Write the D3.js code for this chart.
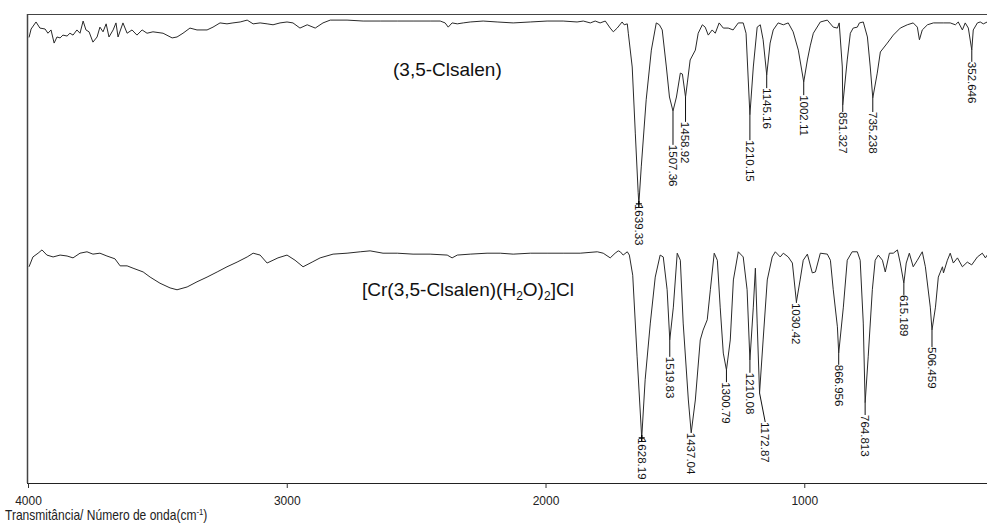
<!DOCTYPE html>
<html><head><meta charset="utf-8">
<script src="https://cdn.jsdelivr.net/npm/d3@7"></script>
<style>html,body{margin:0;padding:0;background:#fff;} svg{display:block;font-family:Arial,"Liberation Sans",sans-serif;}</style>
</head><body><svg id="c" width="987" height="525"></svg>
<script>
// ---- data: (3,5-Clsalen) ligand spectrum ----
const ligandWn = [3996,3988,3969,3954,3934,3923,3911,3899,3888,3876,3865,3849,3838,3826,3811,3799,3787,3776,3764,3749,3733,3722,3710,3698,3687,3671,3660,3652,3633,3617,3598,3579,3559,3540,3517,3478,3443,3424,3401,3374,3347,3308,3285,3258,3231,3208,3180,3153,3130,3103,3076,3053,3026,2999,2976,2949,2921,2890,2860,2832,2767,2705,2639,2573,2512,2446,2407,2388,2376,2361,2341,2318,2291,2241,2187,2125,2059,1994,1932,1878,1854,1827,1808,1789,1769,1750,1738,1723,1704,1696,1684,1680,1665,1653,1642,1639.33,1630,1611,1591,1572,1560,1549,1533,1521,1507.36,1494,1479,1471,1458.92,1452,1441,1421,1410,1394,1383,1371,1356,1344,1329,1313,1294,1275,1255,1236,1225,1210.15,1197,1182,1170,1159,1145.16,1132,1120,1101,1081,1062,1043,1023,1002.11,988,977,965,938,911,888,872,865,853,851.327,834,822,811,795,787,772,756,745,735.238,718,706,679,656,629,602,579,563,555,544,524,501,463,436,416,405,389,378,366,352.646,347,331,320,308,293,280];
const ligandT = [95.0,96.8,98.3,97.0,96.8,95.9,96.6,93.8,95.1,94.9,95.5,95.3,95.9,95.5,96.6,95.9,98.5,96.6,96.2,94.0,95.1,97.2,96.2,97.9,95.1,96.6,98.1,95.1,98.1,95.9,96.6,95.5,96.6,95.9,96.2,95.9,94.9,95.1,95.9,97.0,96.6,96.6,97.2,98.1,97.9,98.1,98.3,98.7,97.9,98.1,97.9,97.7,98.1,98.3,98.1,97.0,97.7,97.0,98.1,98.7,98.7,98.5,98.5,98.5,98.5,98.5,98.5,98.1,97.2,98.1,97.9,98.1,98.3,98.5,98.3,98.1,98.3,98.5,98.5,98.3,98.5,98.1,98.5,98.1,98.5,97.0,96.2,97.0,98.3,97.7,97.9,95.9,88.7,74.6,62.0,59.5,67.4,81.7,92.3,98.1,97.7,96.6,88.7,82.3,79.3,82.3,87.4,87.2,82.3,85.3,90.2,92.3,95.9,97.7,97.2,95.5,96.6,95.9,98.1,97.0,97.0,96.6,98.1,98.1,95.9,78.5,88.7,97.2,97.7,94.5,87.0,93.8,96.6,98.1,97.7,98.1,96.2,92.3,85.5,90.2,93.2,95.9,98.3,98.7,97.2,97.0,98.1,88.7,80.6,90.2,95.9,97.0,97.2,98.1,98.3,95.1,88.7,82.1,87.4,91.9,93.8,95.5,97.0,97.7,98.1,97.2,94.5,96.6,97.7,98.1,98.1,98.1,97.7,98.3,96.6,98.1,97.0,92.3,96.6,98.1,98.3,97.9,98.3,98.0];

// ---- data: [Cr(3,5-Clsalen)(H2O)2]Cl complex spectrum ----
const complexWn = [3996,3981,3961,3946,3927,3903,3876,3849,3826,3799,3772,3749,3722,3695,3664,3644,3617,3594,3555,3528,3490,3451,3424,3385,3347,3308,3269,3231,3192,3153,3130,3103,3076,3053,3034,2999,2968,2937,2902,2871,2821,2767,2716,2678,2628,2573,2512,2446,2380,2361,2341,2291,2226,2175,2125,2059,1994,1932,1866,1800,1777,1750,1731,1719,1711,1700,1684,1676,1663,1646,1628.19,1615,1595,1576,1557,1545,1530,1519.83,1506,1491,1479,1468,1448,1437.04,1421,1402,1391,1375,1363,1348,1336,1325,1313,1300.79,1286,1274,1255,1236,1221,1210.08,1197,1189,1182,1172.87,1159,1143,1124,1112,1093,1081,1062,1046,1030.42,1016,1004,988,969,957,938,911,899,888,872,866.956,849,834,815,795,784,772,764.813,753,737,726,714,698,687,671,656,640,629,615.189,606,594,579,563,544,532,513,506.459,493,482,466,462,447,436,424,408,389,370,353,331,312,300,293,280];
const complexT = [46.1,48.2,49.0,49.7,48.6,48.2,48.6,48.4,48.0,49.0,49.3,48.8,49.0,48.4,47.8,46.3,46.3,45.8,45.0,43.9,42.6,41.6,41.2,41.8,42.9,43.9,45.0,46.1,47.1,48.2,49.0,48.6,46.9,47.5,48.0,48.6,47.5,46.1,47.1,48.0,48.8,49.0,49.3,49.5,49.0,49.0,48.8,48.8,48.6,48.0,48.6,48.8,49.0,49.0,48.8,49.0,49.0,49.0,49.0,49.3,49.0,48.0,49.0,49.5,49.3,48.6,49.3,48.6,44.3,26.9,9.6,22.0,34.1,43.9,48.6,48.2,41.2,30.5,37.5,49.0,47.5,34.1,17.7,10.7,17.7,30.5,32.6,34.8,41.2,49.0,47.5,37.5,27.7,24.1,30.5,43.3,49.3,48.2,41.2,26.2,37.5,45.8,34.1,19.2,30.5,43.3,48.2,49.3,48.2,49.0,48.2,46.9,38.6,43.3,47.5,48.8,44.8,45.0,49.0,48.8,47.5,41.2,33.3,27.7,37.5,47.5,49.3,49.3,47.5,34.1,17.1,26.9,41.2,47.5,48.6,47.5,45.0,49.0,49.0,49.7,46.9,42.6,46.9,49.0,46.1,47.5,49.3,46.1,37.5,32.6,37.5,43.9,46.1,44.8,47.5,49.0,46.9,48.0,46.1,47.1,46.5,48.2,49.0,48.0,48.6,49.0];

// ---- peak annotations ----
const ligandPeakWn = [1639.33,1507.36,1458.92,1210.15,1145.16,1002.11,851.327,735.238,352.646];
const ligandPeakLabels = ["1639.33","1507.36","1458.92","1210.15","1145.16","1002.11","851.327","735.238","352.646"];
const ligandLabelWn = [1639.33,1507.36,1458.92,1210.15,1145.16,1002.11,851.327,735.238,352.646];
const ligandLabelT = [59.5,72.1,77.0,73.1,84.2,82.7,79.1,79.1,89.8];

const complexPeakWn = [1628.19,1519.83,1437.04,1300.79,1210.08,1172.87,1030.42,866.956,764.813,615.189,506.459];
const complexPeakLabels = ["1628.19","1519.83","1437.04","1300.79","1210.08","1172.87","1030.42","866.956","764.813","615.189","506.459"];
const complexLabelWn = [1628.19,1519.83,1437.04,1300.79,1210.08,1151,1030.42,866.956,764.813,615.189,506.459];
const complexLabelT = [9.6,26.9,10.7,21.5,23.5,13.0,38.4,25.2,14.5,40.1,29.0];

const tickValues = [4000,3000,2000,1000];
const seriesNames = ["(3,5-Clsalen)", "[Cr(3,5-Clsalen)(H2O)2]Cl"];
const axisTitle = "Transmitância/ Número de onda(cm";

// ---- drawing ----
const svg = d3.select("#c");
const pL = 27, pT = 14, pB = 483, pR = 987;
const x = d3.scaleLinear().domain([4000, 290]).range([28, 988]);
const y = d3.scaleLinear().domain([0, 100]).range([pB, pT]);

svg.append("defs").append("clipPath").attr("id","plot")
  .append("rect").attr("x", pL).attr("y", pT).attr("width", pR-pL).attr("height", pB-pT);

// frame
svg.append("line").attr("x1",pL).attr("x2",pR).attr("y1",pT+0.5).attr("y2",pT+0.5).attr("stroke","#444").attr("stroke-width",1.2);
svg.append("line").attr("x1",pL+0.5).attr("x2",pL+0.5).attr("y1",pT).attr("y2",pB).attr("stroke","#444").attr("stroke-width",1.5);

// axis
const axis = d3.axisBottom(x).tickValues(tickValues).tickSize(5).tickPadding(8).tickFormat(d3.format("d"));
const gA = svg.append("g").attr("transform", `translate(0,${pB})`).call(axis);
gA.select(".domain").attr("d", `M${pL},0.5H${pR}`).attr("stroke","#222").attr("stroke-width",1.2);
gA.selectAll(".tick line").attr("stroke","#333");
gA.selectAll(".tick text").attr("font-size", 12).attr("font-family","Arial, 'Liberation Sans', sans-serif").attr("fill","#222");

// spectra
const line = d3.line().x(d => x(d[0])).y(d => y(d[1]));
const gP = svg.append("g").attr("clip-path","url(#plot)");
const ligand = ligandWn.map((w,i) => [w, ligandT[i]]);
const complex = complexWn.map((w,i) => [w, complexT[i]]);
[ligand, complex].forEach(s => {
  gP.append("path").attr("d", line(s)).attr("fill","none").attr("stroke","#2a2a2a").attr("stroke-width",1).attr("stroke-linejoin","round");
});

// peak labels
function peaks(series, pw, labels, lw, lt) {
  pw.forEach((w, i) => {
    const pt = series.find(d => d[0] === w);
    const px = x(w), py = y(pt[1]);
    const lx = x(lw[i]), ly = y(lt[i]);
    gP.append("line").attr("x1",px).attr("y1",py).attr("x2",lx).attr("y2",ly).attr("stroke","#111").attr("stroke-width",1);
    gP.append("text").attr("transform", `translate(${lx},${ly}) rotate(90)`)
      .attr("dy","0.36em").attr("font-size", 11.5).attr("fill","#111").text(labels[i]);
  });
  const pt = series.find(d => d[0] === pw[0]);
  const cx = x(pw[0]), cy = y(pt[1]);
  gP.append("path").attr("d", `M${cx-3},${cy}H${cx+3}M${cx},${cy-3}V${cy+3}`).attr("stroke","#000").attr("stroke-width",1.3);
}
peaks(ligand, ligandPeakWn, ligandPeakLabels, ligandLabelWn, ligandLabelT);
peaks(complex, complexPeakWn, complexPeakLabels, complexLabelWn, complexLabelT);

// compound names
svg.append("text").attr("x", 393).attr("y", 76).attr("font-size", 19).attr("fill","#111").text(seriesNames[0]);
const t2 = svg.append("text").attr("x", 362).attr("y", 296).attr("font-size", 19).attr("fill","#111");
t2.append("tspan").text("[Cr(3,5-Clsalen)(H");
t2.append("tspan").attr("font-size", 12).attr("dy", 4).text("2");
t2.append("tspan").attr("dy", -4).text("O)");
t2.append("tspan").attr("font-size", 12).attr("dy", 4).text("2");
t2.append("tspan").attr("dy", -4).text("]Cl");

// axis title
const t3 = svg.append("text").attr("transform", "translate(5,520) scale(0.86,1)").attr("font-size", 14).attr("fill","#222");
t3.append("tspan").text(axisTitle);
t3.append("tspan").attr("font-size", 9).attr("dy", -5).text("-1");
t3.append("tspan").attr("dy", 5).text(")");
</script></body></html>
